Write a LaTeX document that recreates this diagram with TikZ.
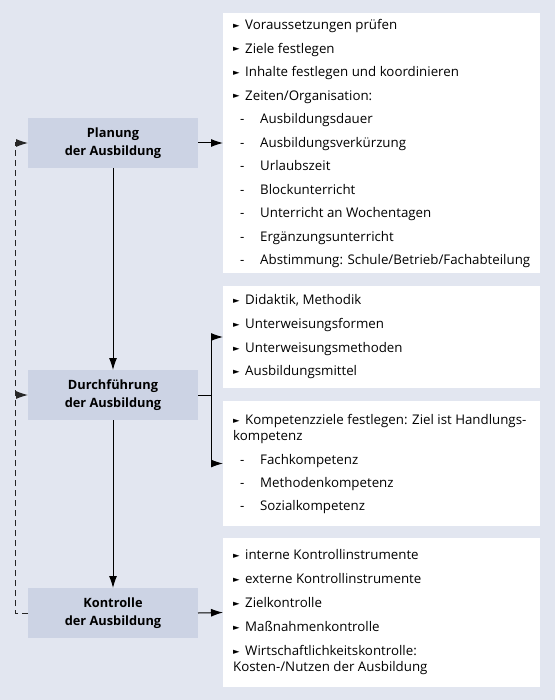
\documentclass[tikz,border=0pt]{standalone}
\usepackage{fontspec}
\setmainfont{Open Sans}
\newfontfamily\symfont{DejaVu Sans}
\usetikzlibrary{arrows.meta,positioning,calc}
\definecolor{bgblue}{RGB}{226,230,240}
\definecolor{boxblue}{RGB}{204,211,228}
\newcommand{\bul}{\raisebox{1.5pt}{\symfont\fontsize{8.5}{8.5}\selectfont ►}}
\newcommand{\lblb}{\makebox[12pt][l]{\bul}}
\newcommand{\lbls}{\hspace*{7pt}\makebox[20pt][l]{-}}
\newcommand{\lblc}{}

\begin{document}
\begin{tikzpicture}[x=1pt,y=-1pt,
  every node/.style={font=\fontsize{13.3}{16}\selectfont},
  stage/.style={fill=boxblue,minimum width=170,minimum height=50,inner sep=0,outer sep=0,
    align=center,font=\fontsize{12.8}{18}\selectfont\bfseries},
  panel/.style={fill=white,minimum width=317,inner sep=0,outer sep=0},
  item/.style={anchor=mid west,inner sep=0},
  arr/.style={-{Latex[length=12pt,width=8pt]},line width=1pt},
  fb/.style={arr,dash pattern=on 6pt off 4pt,draw=black!85}]
  % background
  \fill[bgblue] (0,0) rectangle (555,700);

  % three stages (left)
  \node[stage] (plan)  at (113,143) {Planung\\der Ausbildung};
  \node[stage] (durch) at (113,395) {Durchführung\\der Ausbildung};
  \node[stage] (kontr) at (113,613) {Kontrolle\\der Ausbildung};

  % white panels (right)
  \node[panel,minimum height=260] (list1) at (381.5,143) {};
  \node[panel,minimum height=102] (list2) at (381.5,337) {};
  \node[panel,minimum height=125] (list3) at (381.5,463.5) {};
  \node[panel,minimum height=149] (list4) at (381.5,612.5) {};

  % Planung items
  \foreach \y/\k/\t [count=\i] in {27/b/Voraussetzungen prüfen, 50.5/b/Ziele festlegen,
      74/b/Inhalte festlegen und koordinieren, 97.5/b/{Zeiten/Organisation:},
      121/s/Ausbildungsdauer, 144.5/s/Ausbildungsverkürzung, 168/s/Urlaubszeit,
      191.5/s/Blockunterricht, 215/s/Unterricht an Wochentagen,
      238.5/s/Ergänzungsunterricht, 262/s/{Abstimmung: Schule/Betrieb/Fachabteilung}} {
    \node[item] (pa\i) at (233,\y) {\csname lbl\k\endcsname\t};
  }

  % Durchführung items
  \foreach \y/\k/\t [count=\i] in {302/b/{Didaktik, Methodik}, 326/b/Unterweisungsformen,
      350/b/Unterweisungsmethoden, 373/b/Ausbildungsmittel,
      422/b/Kompetenzziele festlegen: Ziel ist Handlungs-, 438/c/kompetenz,
      462/s/Fachkompetenz, 485/s/Methodenkompetenz, 508/s/Sozialkompetenz} {
    \node[item] (du\i) at (233,\y) {\csname lbl\k\endcsname\t};
  }

  % Kontrolle items
  \foreach \y/\k/\t [count=\i] in {557/b/interne Kontrollinstrumente,
      581/b/externe Kontrollinstrumente, 605/b/Zielkontrolle, 629/b/Maßnahmenkontrolle,
      653/b/Wirtschaftlichkeitskontrolle:, 669/c/{Kosten-/Nutzen der Ausbildung}} {
    \node[item] (ko\i) at (233,\y) {\csname lbl\k\endcsname\t};
  }

  % connectors
  \draw[arr] (plan.east) -- (list1.west);
  \draw[arr] (plan.south) -- (durch.north);
  \draw[arr] (durch.south) -- (kontr.north);
  \draw[arr] (durch.east) -- ++(13,0) |- (list2.west);
  \draw[arr] (durch.east) -- ++(13,0) |- (list3.west);
  \draw[arr] (kontr.east) -- (list4.west);

  % feedback (dashed)
  \draw[fb] (kontr.west) -- ++(-13,0) coordinate (fbl) |- (plan.west);
  \draw[fb] (fbl |- durch.west) -- (durch.west);
\end{tikzpicture}
\end{document}
